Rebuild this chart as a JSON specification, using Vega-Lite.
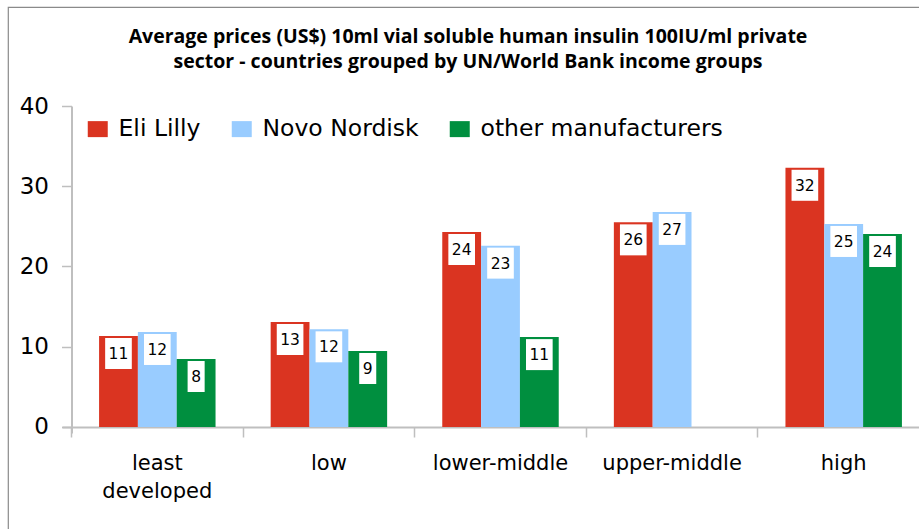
{
  "$schema": "https://vega.github.io/schema/vega-lite/v6.json",
  "autosize": "none",
  "width": 920,
  "height": 553,
  "padding": {"left": 8, "top": 7, "right": 0, "bottom": 0},
  "background": "white",
  "config": {"view": {"stroke": "#8a8a8a", "strokeWidth": 1.2}},
  "title": {
    "text": ["Average prices (US$) 10ml vial soluble human insulin 100IU/ml private", "sector - countries grouped by UN/World Bank income groups"],
    "font": "Open Sans", "fontSize": 19.5, "fontWeight": "bold", "color": "#000000",
    "anchor": "middle", "frame": "group", "baseline": "top", "offset": -65, "lineHeight": 25
  },
  "data": {"values": [
    {"group": "least developed", "maker": "Eli Lilly", "price": 11.34},
    {"group": "least developed", "maker": "Novo Nordisk", "price": 11.84},
    {"group": "least developed", "maker": "other manufacturers", "price": 8.47},
    {"group": "low", "maker": "Eli Lilly", "price": 13.08},
    {"group": "low", "maker": "Novo Nordisk", "price": 12.17},
    {"group": "low", "maker": "other manufacturers", "price": 9.47},
    {"group": "lower-middle", "maker": "Eli Lilly", "price": 24.3},
    {"group": "lower-middle", "maker": "Novo Nordisk", "price": 22.6},
    {"group": "lower-middle", "maker": "other manufacturers", "price": 11.2},
    {"group": "upper-middle", "maker": "Eli Lilly", "price": 25.5},
    {"group": "upper-middle", "maker": "Novo Nordisk", "price": 26.8},
    {"group": "high", "maker": "Eli Lilly", "price": 32.3},
    {"group": "high", "maker": "Novo Nordisk", "price": 25.3},
    {"group": "high", "maker": "other manufacturers", "price": 24.05}
  ]},
  "encoding": {
    "x": {
      "field": "group", "type": "nominal",
      "sort": ["least developed", "low", "lower-middle", "upper-middle", "high"],
      "scale": {"range": [54, 931], "paddingInner": 0, "paddingOuter": 0.0554},
      "axis": {
        "orient": "bottom", "offset": -133, "bandPosition": 0, "title": null,
        "domainColor": "#bfbfbf", "domainWidth": 2,
        "tickColor": "#bfbfbf", "tickSize": 10, "tickWidth": 1.5,
        "labelAngle": 0, "labelFont": "DejaVu Sans", "labelFontSize": 21,
        "labelColor": "#000000", "labelPadding": 15, "labelLineHeight": 28,
        "labelOverlap": false, "labelFlush": false, "labelLimit": 0,
        "labelExpr": "datum.value == 'least developed' ? ['least', 'developed'] : datum.value"
      }
    },
    "xOffset": {
      "field": "maker", "type": "nominal",
      "sort": ["Eli Lilly", "Novo Nordisk", "other manufacturers"],
      "scale": {"paddingInner": 0, "paddingOuter": 0.71}
    },
    "y": {
      "field": "price", "type": "quantitative",
      "scale": {"domain": [-0.75, 40], "range": [426, 99], "nice": false, "zero": false},
      "axis": {
        "values": [0, 10, 20, 30, 40], "title": null, "grid": false, "offset": -63.5,
        "domainColor": "#bfbfbf", "domainWidth": 2,
        "tickColor": "#bfbfbf", "tickSize": 10, "tickWidth": 1.5,
        "labelFont": "DejaVu Sans", "labelFontSize": 23, "labelColor": "#000000", "labelPadding": 13
      }
    }
  },
  "layer": [
    {
      "mark": {"type": "bar"},
      "encoding": {
        "y2": {"datum": 0},
        "color": {
          "field": "maker", "type": "nominal",
          "sort": ["Eli Lilly", "Novo Nordisk", "other manufacturers"],
          "scale": {"domain": ["Eli Lilly", "Novo Nordisk", "other manufacturers"], "range": ["#DA3421", "#99CCFF", "#008F3F"]},
          "legend": {
            "orient": "none", "legendX": 78, "legendY": 110, "direction": "horizontal", "title": null,
            "padding": 0, "symbolType": "M-1,-0.8H1V0.8H-1Z", "symbolSize": 400, "symbolStrokeWidth": 0,
            "symbolOpacity": 1, "labelFont": "DejaVu Sans", "labelFontSize": 23.5, "labelColor": "#000000",
            "labelOffset": 9, "columnPadding": 29, "labelLimit": 0
          }
        }
      }
    },
    {
      "mark": {"type": "point", "filled": true, "color": "white", "opacity": 1, "strokeWidth": 0, "yOffset": 17.5, "size": 961},
      "encoding": {
        "shape": {"condition": {"test": "datum.price < 9.5", "value": "M-0.55,-1H0.55V1H-0.55Z"}, "value": "M-0.86,-1H0.86V1H-0.86Z"}
      }
    },
    {
      "mark": {"type": "text", "font": "DejaVu Sans", "fontSize": 15.5, "color": "#000000", "baseline": "middle", "yOffset": 18},
      "encoding": {"text": {"field": "price", "type": "quantitative", "format": ".0f"}}
    }
  ]
}
